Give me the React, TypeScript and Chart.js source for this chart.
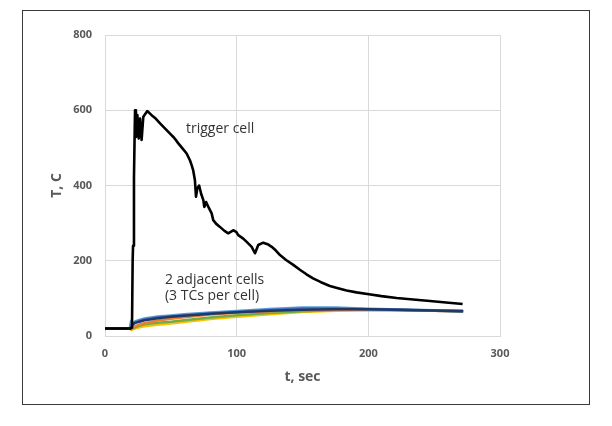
import React, { useEffect, useRef } from "react";
import { Chart, registerables } from "chart.js";

Chart.register(...registerables);

// ---- Data ----
const xTicks = [0, 100, 200, 300];
const yTicks = [0, 200, 400, 600, 800];

// Trigger cell thermocouple
const triggerTime = [
  0, 10, 19.5, 20.5, 21, 21.3, 22, 22.8, 23.5, 24.6, 25.6, 26.6, 27.8, 29.1, 31.1, 32.1,
  35.4, 38.5, 41.8, 45.5, 49.4, 52.5, 55.7, 59, 62, 64.5, 65.8, 67, 68.3, 69.1, 70.1, 71.5,
  73, 74.7, 75.4, 76.8, 78.5, 81, 82.2, 84.5, 87.3, 90.5, 93.6, 97.4, 99.6, 101.2, 105,
  107.6, 111.4, 113.9, 116.4, 120.2, 123.5, 126.6, 129.8, 132.9, 137.5, 143, 148, 153,
  158, 164, 170.8, 177, 183.5, 191, 200.5, 210, 221.5, 234, 246.8, 259, 271.6,
];
const triggerTemp = [
  20, 20, 20, 22, 200, 240, 420, 600, 529, 587, 525, 578, 521, 583, 593, 598,
  587, 578, 565, 552, 538, 527, 512, 498, 485, 467, 454, 440, 414, 370, 392, 400,
  378, 361, 343, 356, 343, 326, 308, 298, 290, 280, 273, 281, 277, 268, 259,
  250, 237, 220, 242, 248, 244, 237, 227, 215, 202, 189, 176, 164,
  153, 143, 133, 127, 121, 116, 111, 106, 101, 97, 93, 89, 85,
];

// Adjacent cells thermocouples (3 TCs per cell)
const adjTime = [0, 19, 20, 21, 23, 26, 30, 40, 50, 60, 80, 100, 125, 150, 175, 200, 225, 250, 272];
const tcNavy = [20, 20, 22, 30, 35, 38, 42, 47, 51, 54, 59, 63, 67, 70, 71, 71, 70, 68, 66];
const tcLightBlue = [20, 20, 40, 33, 38, 42, 46, 51, 54, 57, 62, 66, 71, 75, 75, 72, 70, 68, 67];
const tcBlue = [20, 20, 25, 32, 36, 40, 44, 49, 52, 55, 60, 64, 69, 73, 73, 71, 69, 67, 66];
const tcOrange = [20, 20, 20, 22, 26, 30, 34, 41, 46, 50, 57, 62, 66, 69, 70, 70, 69, 67, 66];
const tcGreen = [20, 20, 18, 20, 23, 27, 31, 35, 38, 42, 49, 55, 61, 66, 69, 70, 69, 67, 66];
const tcYellow = [20, 20, 16, 18, 20, 23, 26, 30, 33, 37, 45, 51, 58, 64, 67, 69, 68, 67, 66];

const annotations = [
  { text: "trigger cell", t: 61.5, T: 550 },
  { text: "2 adjacent cells", t: 45.5, T: 148 },
  { text: "(3 TCs per cell)", t: 45.5, T: 105 },
];

const FONT = "'Open Sans', 'Liberation Sans', sans-serif";
const GRAY = "#595959";

function pts(xs: number[], ys: number[]) {
  return xs.map((x, i) => ({ x, y: ys[i] }));
}

const annotationPlugin = {
  id: "textAnnotations",
  afterDatasetsDraw(chart: any) {
    const { ctx, scales } = chart;
    ctx.save();
    ctx.fillStyle = "#333333";
    ctx.font = `14px ${FONT}`;
    ctx.textAlign = "left";
    ctx.textBaseline = "middle";
    for (const a of annotations) {
      ctx.fillText(a.text, scales.x.getPixelForValue(a.t), scales.y.getPixelForValue(a.T));
    }
    ctx.restore();
  },
};

export default function App() {
  const ref = useRef<HTMLCanvasElement | null>(null);

  useEffect(() => {
    if (!ref.current) return;
    const mk = (data: any, color: string, width = 2.5) => ({
      data,
      borderColor: color,
      backgroundColor: color,
      borderWidth: width,
      pointRadius: 0,
      tension: 0,
      fill: false,
      borderJoinStyle: "round",
    });
    // Chart.js draws dataset 0 on top
    const chart = new Chart(ref.current, {
      type: "line",
      data: {
        datasets: [
          mk(pts(triggerTime, triggerTemp), "#000000", 2.6),
          mk(pts(adjTime, tcNavy), "#203864"),
          mk(pts(adjTime, tcBlue), "#4472C4"),
          mk(pts(adjTime, tcLightBlue), "#5B9BD5", 3),
          mk(pts(adjTime, tcOrange), "#ED7D31"),
          mk(pts(adjTime, tcGreen), "#70AD47"),
          mk(pts(adjTime, tcYellow), "#FFC000"),
        ],
      },
      options: {
        animation: false,
        responsive: false,
        maintainAspectRatio: false,
        layout: { padding: { left: 0, right: 104, top: 27, bottom: 0 } },
        plugins: { legend: { display: false }, tooltip: { enabled: false } },
        scales: {
          x: {
            type: "linear",
            min: 0,
            max: 300,
            afterBuildTicks: (s: any) => {
              s.ticks = xTicks.map((v) => ({ value: v }));
            },
            afterFit: (s: any) => {
              s.height = 82;
            },
            grid: { color: "#d9d9d9", lineWidth: 1, drawTicks: false },
            border: { color: "#d9d9d9" },
            ticks: {
              padding: 11,
              color: GRAY,
              font: { family: FONT, size: 11, weight: "bold" },
              maxRotation: 0,
            },
            title: {
              display: true,
              text: "t, sec",
              color: GRAY,
              font: { family: FONT, size: 14, weight: "bold" },
              padding: { top: 0, bottom: 33 },
            },
          },
          y: {
            type: "linear",
            min: 0,
            max: 800,
            afterBuildTicks: (s: any) => {
              s.ticks = yTicks.map((v) => ({ value: v }));
            },
            afterFit: (s: any) => {
              s.width = 97;
            },
            grid: { color: "#d9d9d9", lineWidth: 1, drawTicks: false },
            border: { display: false },
            ticks: {
              padding: 13,
              color: GRAY,
              font: { family: FONT, size: 11, weight: "bold" },
            },
            title: {
              display: true,
              text: "T, C",
              color: GRAY,
              font: { family: FONT, size: 14, weight: "bold" },
              padding: { top: 41, bottom: 0 },
            },
          },
        },
      },
      plugins: [annotationPlugin],
    } as any);
    return () => chart.destroy();
  }, []);

  return (
    <div style={{ position: "relative", width: 596, height: 410 }}>
      <div
        style={{
          position: "absolute",
          left: 14,
          top: 2,
          width: 566,
          height: 393,
          border: "1.5px solid #3a3a3a",
        }}
      />
      <canvas
        ref={ref}
        width={596}
        height={410}
        style={{ position: "absolute", left: 0, top: 0, width: 596, height: 410 }}
      />
    </div>
  );
}
